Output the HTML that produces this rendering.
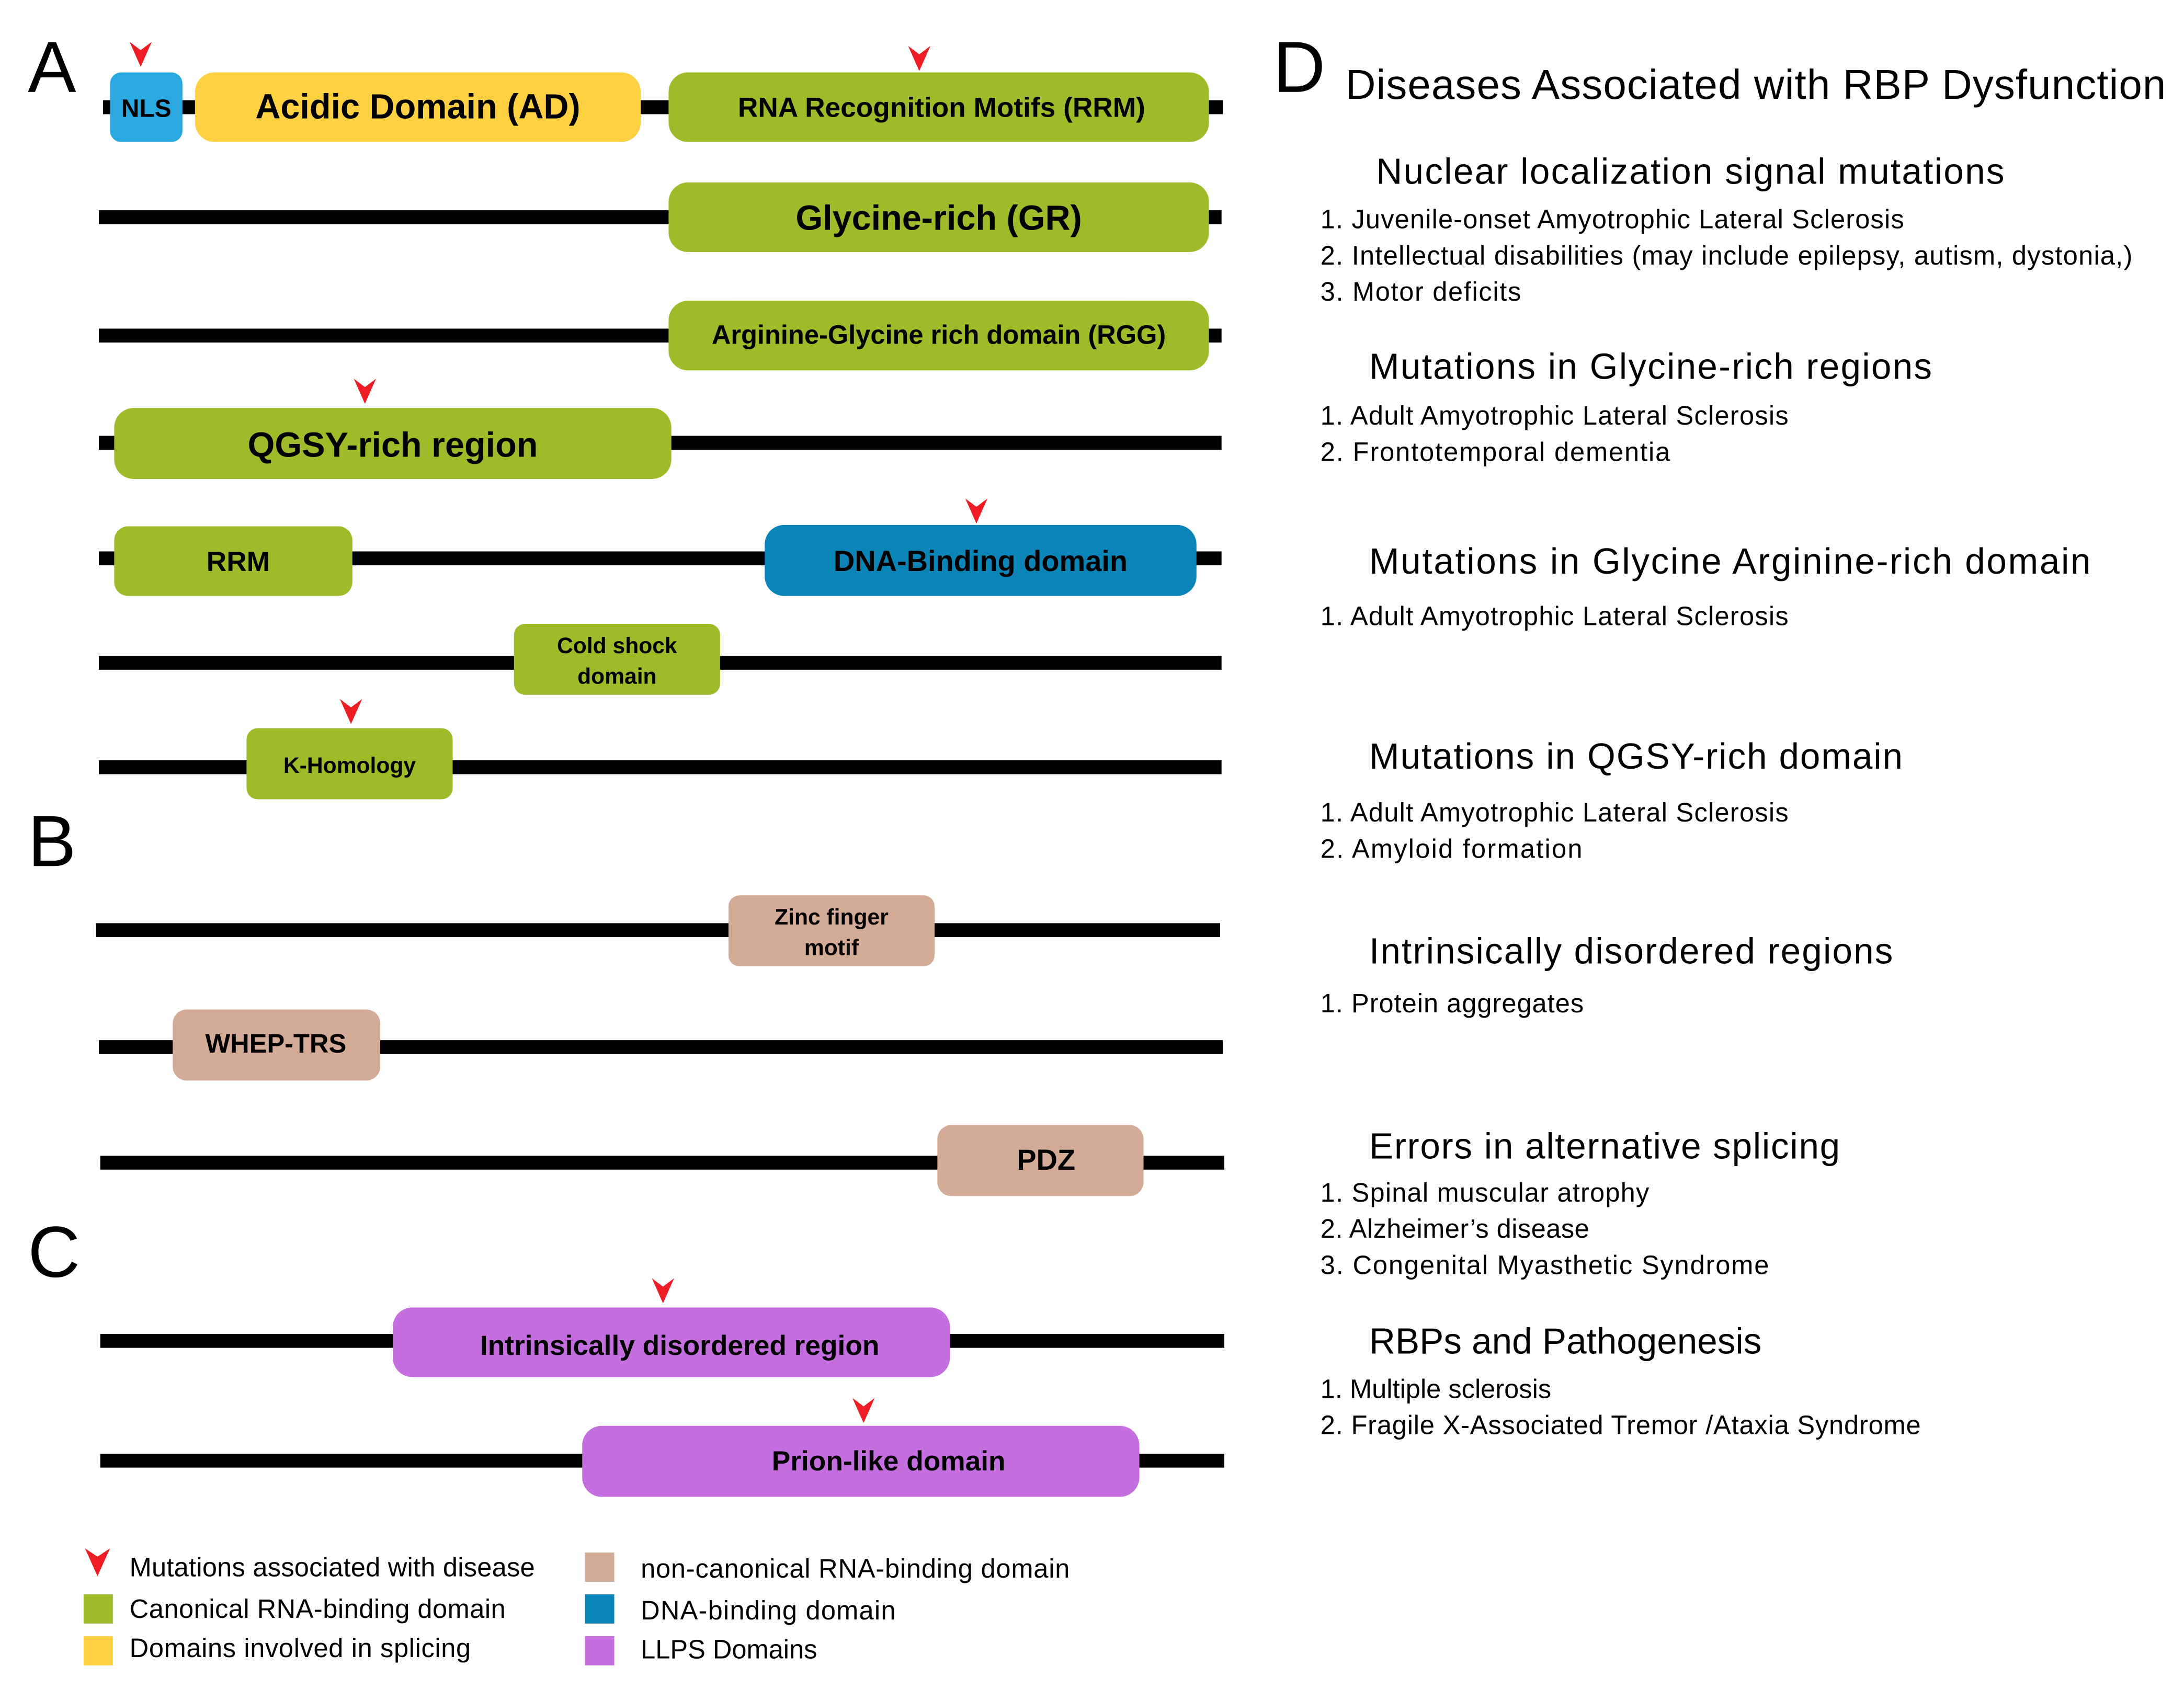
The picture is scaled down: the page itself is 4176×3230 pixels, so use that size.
<!DOCTYPE html>
<html><head><meta charset="utf-8"><style>
html,body{margin:0;padding:0;background:#fff;}
svg{display:block;}
.b{font-family:"Liberation Sans",Arial,sans-serif;font-weight:bold;fill:#000;text-anchor:middle;}
.r{font-family:"Liberation Sans",Arial,sans-serif;fill:#000;}
</style></head><body>
<svg width="4176" height="3230" viewBox="0 0 1568 1213" preserveAspectRatio="none" xmlns="http://www.w3.org/2000/svg">
<g class="r" font-size="52">
<text x="20" y="66">A</text><text x="20" y="622">B</text><text x="20" y="917">C</text><text x="914" y="66">D</text>
</g>
<g fill="#000">
<rect x="74" y="72" width="804" height="10"/>
<rect x="71" y="151" width="806" height="10"/>
<rect x="71" y="236" width="806" height="10"/>
<rect x="71" y="313" width="806" height="10"/>
<rect x="71" y="396" width="806" height="10"/>
<rect x="71" y="471" width="806" height="10"/>
<rect x="71" y="546" width="806" height="10"/>
<rect x="69" y="663" width="807" height="10"/>
<rect x="71" y="747" width="807" height="10"/>
<rect x="72" y="830" width="807" height="10"/>
<rect x="72" y="958" width="807" height="10"/>
<rect x="72" y="1044" width="807" height="10"/>
</g>
<g>
<rect x="79" y="52" width="52" height="50" rx="8" fill="#29a9e0"/>
<rect x="140" y="52" width="320" height="50" rx="14" fill="#fed142"/>
<rect x="480" y="52" width="388" height="50" rx="14" fill="#9ebb2a"/>
<rect x="480" y="131" width="388" height="50" rx="14" fill="#9ebb2a"/>
<rect x="480" y="216" width="388" height="50" rx="14" fill="#9ebb2a"/>
<rect x="82" y="293" width="400" height="51" rx="14" fill="#9ebb2a"/>
<rect x="82" y="378" width="171" height="50" rx="10" fill="#9ebb2a"/>
<rect x="549" y="377" width="310" height="51" rx="14" fill="#0b84b8"/>
<rect x="369" y="448" width="148" height="51" rx="8" fill="#9ebb2a"/>
<rect x="177" y="523" width="148" height="51" rx="8" fill="#9ebb2a"/>
<rect x="523" y="643" width="148" height="51" rx="8" fill="#d3ab97"/>
<rect x="124" y="725" width="149" height="51" rx="10" fill="#d3ab97"/>
<rect x="673" y="808" width="148" height="51" rx="10" fill="#d3ab97"/>
<rect x="282" y="939" width="400" height="50" rx="14" fill="#c56ee0"/>
<rect x="418" y="1024" width="400" height="51" rx="14" fill="#c56ee0"/>
</g>
<g class="b">
<text x="105" y="84" font-size="18">NLS</text>
<text x="300" y="85" font-size="25">Acidic Domain (AD)</text>
<text x="676" y="84" font-size="20">RNA Recognition Motifs (RRM)</text>
<text x="674" y="165" font-size="25">Glycine-rich (GR)</text>
<text x="674" y="247" font-size="19">Arginine-Glycine rich domain (RGG)</text>
<text x="282" y="328" font-size="25">QGSY-rich region</text>
<text x="171" y="410" font-size="20">RRM</text>
<text x="704" y="410" font-size="21">DNA-Binding domain</text>
<text x="443" y="469" font-size="16">Cold shock</text>
<text x="443" y="491" font-size="16">domain</text>
<text x="251" y="555" font-size="16">K-Homology</text>
<text x="597" y="664" font-size="16">Zinc finger</text>
<text x="597" y="686" font-size="16">motif</text>
<text x="198" y="756" font-size="19">WHEP-TRS</text>
<text x="751" y="840" font-size="21">PDZ</text>
<text x="488" y="973" font-size="20">Intrinsically disordered region</text>
<text x="638" y="1056" font-size="20">Prion-like domain</text>
</g>
<g fill="#ee1c24">
<polygon points="93,30 101,36 109,30 101,48"/>
<polygon points="652,33 660,39 668,33 660,51"/>
<polygon points="254,272 262,278 270,272 262,290"/>
<polygon points="693,358 701,364 709,358 701,376"/>
<polygon points="244,502 252,508 260,502 252,520"/>
<polygon points="468,918 476,924 484,918 476,936"/>
<polygon points="612,1004 620,1010 628,1004 620,1022"/>
<polygon points="61,1112 70,1118 79,1112 70,1132"/>
</g>
<rect x="60" y="1145" width="21" height="21" fill="#9ebb2a"/>
<rect x="60" y="1175" width="21" height="21" fill="#fed142"/>
<rect x="420" y="1115" width="21" height="21" fill="#d3ab97"/>
<rect x="420" y="1145" width="21" height="21" fill="#0b84b8"/>
<rect x="420" y="1175" width="21" height="21" fill="#c56ee0"/>
<g class="r" font-size="19">
<text x="93" y="1132" textLength="291">Mutations associated with disease</text>
<text x="93" y="1162" textLength="270">Canonical RNA-binding domain</text>
<text x="93" y="1190" textLength="245">Domains involved in splicing</text>
<text x="460" y="1133" textLength="308">non-canonical RNA-binding domain</text>
<text x="460" y="1163" textLength="183">DNA-binding domain</text>
<text x="460" y="1191">LLPS Domains</text>
</g>
<g class="r">
<text x="966" y="71" font-size="30" textLength="589">Diseases Associated with RBP Dysfunction</text>
<g font-size="26">
<text x="988" y="132" textLength="451">Nuclear localization signal mutations</text>
<text x="983" y="272" textLength="404">Mutations in Glycine-rich regions</text>
<text x="983" y="412" textLength="518">Mutations in Glycine Arginine-rich domain</text>
<text x="983" y="552" textLength="383">Mutations in QGSY-rich domain</text>
<text x="983" y="692" textLength="376">Intrinsically disordered regions</text>
<text x="983" y="832" textLength="338">Errors in alternative splicing</text>
<text x="983" y="972">RBPs and Pathogenesis</text>
</g>
<g font-size="19">
<text x="948" y="164" textLength="419">1. Juvenile-onset Amyotrophic Lateral Sclerosis</text>
<text x="948" y="190" textLength="583">2. Intellectual disabilities (may include epilepsy, autism, dystonia,)</text>
<text x="948" y="216" textLength="144">3. Motor deficits</text>
<text x="948" y="305" textLength="336">1. Adult Amyotrophic Lateral Sclerosis</text>
<text x="948" y="331" textLength="251">2. Frontotemporal dementia</text>
<text x="948" y="449" textLength="336">1. Adult Amyotrophic Lateral Sclerosis</text>
<text x="948" y="590" textLength="336">1. Adult Amyotrophic Lateral Sclerosis</text>
<text x="948" y="616" textLength="188">2. Amyloid formation</text>
<text x="948" y="727" textLength="189">1. Protein aggregates</text>
<text x="948" y="863" textLength="236">1. Spinal muscular atrophy</text>
<text x="948" y="889" textLength="193">2. Alzheimer’s disease</text>
<text x="948" y="915" textLength="322">3.  Congenital Myasthetic Syndrome</text>
<text x="948" y="1004">1. Multiple sclerosis</text>
<text x="948" y="1030" textLength="431">2. Fragile X-Associated Tremor /Ataxia Syndrome</text>
</g>
</g>
</svg>
</body></html>
